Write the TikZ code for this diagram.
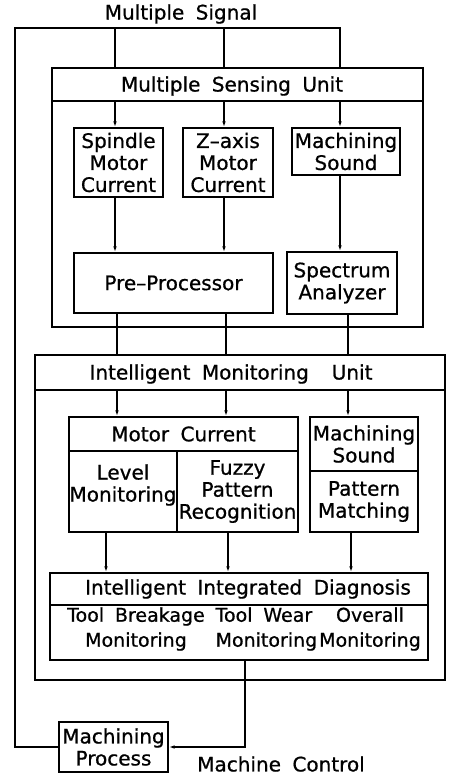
\documentclass[tikz,border=0pt]{standalone}
\usepackage{fontspec}
\setmainfont{DejaVu Sans}[WordSpace=1.8, FakeBold=0.8]
\usetikzlibrary{arrows.meta}

\begin{document}
\begin{tikzpicture}[x=1pt, y=-1pt, line width=1.2pt,
	>={Latex[length=6pt,width=3.5pt]},
	every node/.style={font=\fontsize{20}{22}\selectfont, inner sep=0pt, align=center},
	box/.style={draw},
	small/.style={font=\fontsize{19}{22}\selectfont}]
	\useasboundingbox (0,0) rectangle (449,775);

	% columns of the connectors
	\coordinate (sa) at (115,0);
	\coordinate (sb) at (224,0);
	\coordinate (sc) at (340,0);
	\coordinate (ia) at (117,0);
	\coordinate (ib) at (226,0);
	\coordinate (ic) at (348,0);
	\coordinate (da) at (106,0);
	\coordinate (db) at (228,0);
	\coordinate (dc) at (351,0);
	\coordinate (out) at (245,0);
	\coordinate (busL) at (15,28);

	\node (signal) at (181,14) {Multiple Signal};

	% sensing unit
	\node [box, minimum width=371, minimum height=259] (msu) at (237.5,197.5) {};
	\node [box, minimum width=371, minimum height=33] (msuhead) at (237.5,84.5) {};
	\node (msutitle) at (232,86) {Multiple Sensing Unit};
	\node [box, minimum width=89, minimum height=69] (spindle) at (118.5,162.5) {Spindle\\Motor\\Current};
	\node [box, minimum width=90, minimum height=69] (zaxis) at (228,162.5) {Z--axis\\Motor\\Current};
	\node [box, minimum width=108, minimum height=47] (msound) at (346,151.5) {Machining\\Sound};
	\node [box, minimum width=199, minimum height=60] (prep) at (173.5,283) {Pre--Processor};
	\node [box, minimum width=110, minimum height=62] (spec) at (342,283) {Spectrum\\Analyzer};

	% monitoring unit
	\node [box, minimum width=410, minimum height=325] (imu) at (240,517.5) {};
	\node [box, minimum width=410, minimum height=35] (imuhead) at (240,372.5) {};
	\node (imutitle) at (231,374) {Intelligent Monitoring \ Unit};
	\node [box, minimum width=229, minimum height=34] (mchead) at (183.5,434) {Motor Current};
	\node [box, minimum width=108, minimum height=81] (level) at (123,491.5) {};
	\node (leveltxt) at (123,485) {Level\\Monitoring};
	\node [box, minimum width=121, minimum height=81] (fuzzy) at (237.5,491.5) {Fuzzy\\Pattern\\Recognition};
	\node [box, minimum width=108, minimum height=54] (msound2) at (364,444) {Machining\\Sound};
	\node [box, minimum width=108, minimum height=61] (pmatch) at (364,501.5) {Pattern\\Matching};

	% integrated diagnosis
	\node [box, minimum width=378, minimum height=32] (iidhead) at (239,589) {};
	\node (iidtitle) at (248,589) {Intelligent Integrated Diagnosis};
	\node [box, minimum width=378, minimum height=55] (iid) at (239,632.5) {};
	\node [small] (breakage) at (136,629) {Tool Breakage\\[3pt]Monitoring};
	\node [small, anchor=west, align=left] (wear) at (215,629) {Tool Wear\\[3pt]Monitoring};
	\node [small] (overall) at (370,629) {Overall\\[3pt]Monitoring};

	\node [box, minimum width=109, minimum height=50] (mproc) at (113.5,747) {Machining\\Process};
	\node (mctrl) at (281,764) {Machine Control};

	% signal bus
	\draw (mproc.west) -| (busL) -| (msu.north -| sc);
	\draw (msu.north -| sa) -- (sa |- busL);
	\draw (msu.north -| sb) -- (sb |- busL);

	\draw [->] (msuhead.south -| sa) -- (spindle.north -| sa);
	\draw [->] (msuhead.south -| sb) -- (zaxis.north -| sb);
	\draw [->] (msuhead.south -| sc) -- (msound.north -| sc);
	\draw [->] (spindle.south -| sa) -- (prep.north -| sa);
	\draw [->] (zaxis.south -| sb) -- (prep.north -| sb);
	\draw [->] (msound.south -| sc) -- (spec.north -| sc);

	\draw (prep.south -| ia) -- (imuhead.north -| ia);
	\draw (prep.south -| ib) -- (imuhead.north -| ib);
	\draw (spec.south -| ic) -- (imuhead.north -| ic);

	\draw [->] (imuhead.south -| ia) -- (mchead.north -| ia);
	\draw [->] (imuhead.south -| ib) -- (mchead.north -| ib);
	\draw [->] (imuhead.south -| ic) -- (msound2.north -| ic);
	\draw [->] (level.south -| da) -- (iidhead.north -| da);
	\draw [->] (fuzzy.south -| db) -- (iidhead.north -| db);
	\draw [->] (pmatch.south -| dc) -- (iidhead.north -| dc);

	% machine control
	\draw [->] (iid.south -| out) |- (mproc.east);
\end{tikzpicture}
\end{document}
